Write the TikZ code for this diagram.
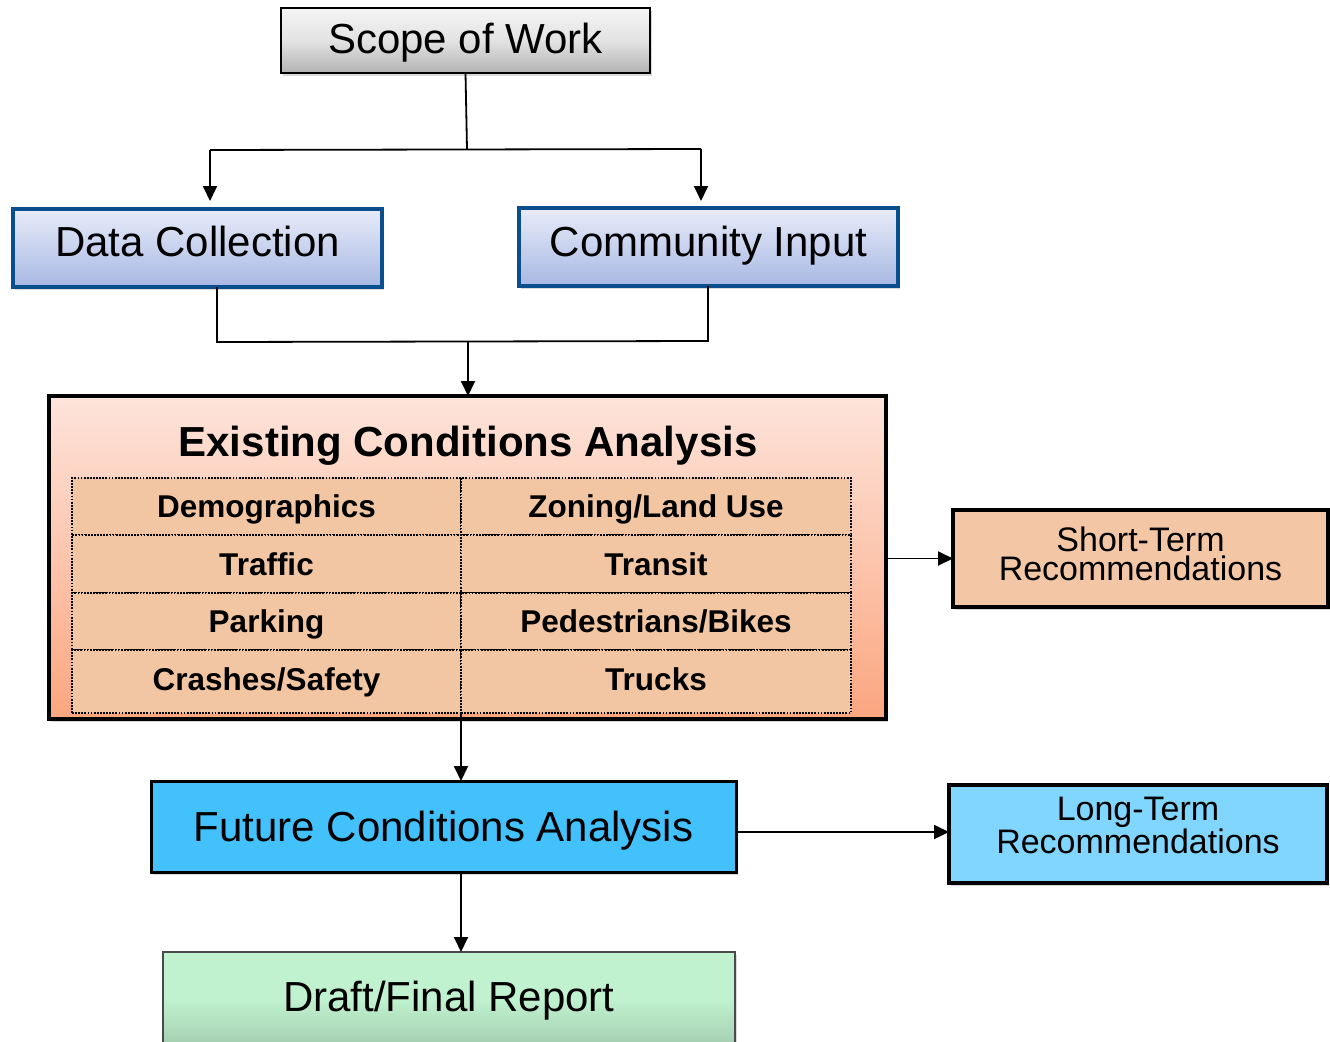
\documentclass[tikz,border=0pt]{standalone}
\usepackage{fontspec}
\setmainfont{Liberation Sans}
\usetikzlibrary{shadows,arrows.meta}
\definecolor{dcblue}{HTML}{0B4E8E}
\definecolor{dctop}{HTML}{E8ECF9}
\definecolor{dcbot}{HTML}{A8B8E3}
\definecolor{extop}{HTML}{FDE4DB}
\definecolor{exbot}{HTML}{FBA67F}
\definecolor{cellfill}{HTML}{F3C6A3}
\definecolor{shortfill}{HTML}{F3C7A5}
\definecolor{futfill}{HTML}{42C1FC}
\definecolor{longfill}{HTML}{80D6FE}
\definecolor{draftfill}{HTML}{C0F2CF}
\definecolor{draftline}{HTML}{4A4A4A}
\tikzset{
  box/.style={rectangle, inner sep=0pt, outer sep=0pt, align=center,
    drop shadow={shadow xshift=2pt, shadow yshift=-3pt, opacity=0.3}},
  big/.style={font=\fontsize{42}{46}\selectfont},
  rec/.style={font=\fontsize{34}{28.5}\selectfont},
  cell/.style={rectangle, inner sep=0pt, outer sep=0pt, fill=cellfill, draw=black,
    line width=1.7pt, dash pattern=on 1.8pt off 1.3pt,
    font=\fontsize{31.5}{34}\selectfont\bfseries, text height=22pt, text depth=0pt},
  conn/.style={line width=1.8pt, draw=black},
  arr/.style={conn, -{Triangle[length=15pt,width=14pt]}},
}
\begin{document}
\begin{tikzpicture}[x=1pt,y=-1pt]
\useasboundingbox (0,0) rectangle (1330,1041);
% Scope
\node[box, big, draw=black, line width=2.5pt, top color=gray!8, bottom color=gray!60, middle color=gray!22,
  minimum width=369pt, minimum height=65pt, text height=30.5pt, text depth=4.9pt] (scope) at (465.5,40.5) {Scope of Work};
% Data Collection / Community Input
\node[box, big, draw=dcblue, line width=4pt, top color=dctop, bottom color=dcbot,
  minimum width=369pt, minimum height=78pt, text height=30.5pt, text depth=13.1pt] (dc) at (197.5,248) {Data Collection};
\node[box, big, draw=dcblue, line width=4pt, top color=dctop, bottom color=dcbot,
  minimum width=379pt, minimum height=78pt, text height=30.5pt, text depth=11.1pt] (ci) at (708.5,247) {Community Input};
% Existing
\node[box, draw=black, line width=3.2pt, top color=extop, bottom color=exbot,
  minimum width=837pt, minimum height=323pt] (exist) at (467.5,557.5) {};
\node[font=\fontsize{42}{46}\selectfont\bfseries, inner sep=0pt, anchor=base] (title) at (468,456.5) {Existing Conditions Analysis};
% cells
\node[cell, minimum width=389pt, minimum height=57pt] (c11) at (266.5,506.5) {Demographics};
\node[cell, minimum width=390pt, minimum height=57pt] (c12) at (656,506.5) {Zoning/Land Use};
\node[cell, minimum width=389pt, minimum height=58pt] (c21) at (266.5,564) {Traffic};
\node[cell, minimum width=390pt, minimum height=58pt] (c22) at (656,564) {Transit};
\node[cell, minimum width=389pt, minimum height=57pt] (c31) at (266.5,621.5) {Parking};
\node[cell, minimum width=390pt, minimum height=57pt] (c32) at (656,621.5) {Pedestrians/Bikes};
\node[cell, minimum width=389pt, minimum height=63pt, text depth=4pt] (c41) at (266.5,681.5) {Crashes/Safety};
\node[cell, minimum width=390pt, minimum height=63pt, text depth=4pt] (c42) at (656,681.5) {Trucks};
% Short-term
\node[box, rec, draw=black, line width=3.2pt, fill=shortfill,
  minimum width=375pt, minimum height=97pt, text height=53.3pt, text depth=10.3pt] (short) at (1140.5,558.5) {Short-Term\\Recommendations};
% Future
\node[box, big, draw=black, line width=3pt, fill=futfill,
  minimum width=585pt, minimum height=91pt, text height=30.5pt, text depth=0pt] (future) at (443.5,826.5) {Future Conditions Analysis};
% Long-term
\node[box, rec, draw=black, line width=3.2pt, fill=longfill,
  minimum width=378pt, minimum height=98pt, text height=53.3pt, text depth=14.7pt] (long) at (1138,834) {Long-Term\\Recommendations};
% Draft
\node[box, big, draw=draftline, line width=2pt, top color=draftfill, bottom color=draftfill!85!black, middle color=draftfill,
  minimum width=572pt, minimum height=94pt, text height=30.5pt, text depth=5.1pt] (draft) at (449,999) {Draft/Final Report};
% connectors
\coordinate (j1) at (467,149);
\coordinate (jl) at (210,150);
\coordinate (jr) at (701,149);
\draw[conn] (scope.south) -- (j1);
\draw[conn] (jl) -- (jr);
\draw[arr, shorten >=8pt] (jl) -- (jl |- dc.north);
\draw[arr, shorten >=7pt] (jr) -- (jr |- ci.north);
\coordinate (kl) at (217,342);
\coordinate (kr) at (708,341);
\coordinate (km) at (468,342);
\draw[conn] (kl |- dc.south) -- (kl) -- (kr) -- (kr |- ci.south);
\draw[arr] (km) -- (km |- exist.north);
\draw[arr] (exist.east |- short.west) -- (short.west);
\draw[arr] (c41.south east) -- (c41.south east |- future.north);
\draw[arr] ([yshift=-5.5pt]future.east) -- ([yshift=-5.5pt]future.east -| long.west);
\draw[arr] (c41.south east |- future.south) -- (c41.south east |- draft.north);
\end{tikzpicture}
\end{document}
